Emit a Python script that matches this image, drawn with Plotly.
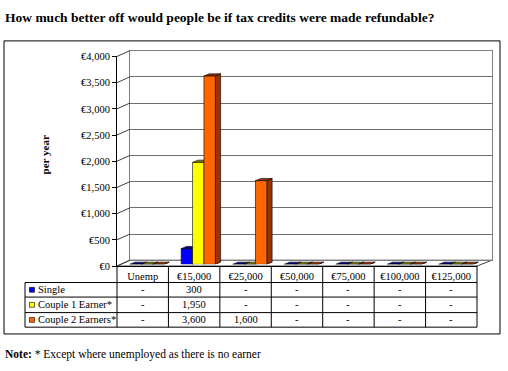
import plotly.graph_objects as go

# ---------------- data ----------------
categories = ["Unemp", "€15,000", "€25,000", "€50,000", "€75,000", "€100,000", "€125,000"]
series_names = ["Single", "Couple 1 Earner*", "Couple 2 Earners*"]
single = [0, 300, 0, 0, 0, 0, 0]
couple_1_earner = [0, 1950, 0, 0, 0, 0, 0]
couple_2_earners = [0, 3600, 1600, 0, 0, 0, 0]
y_ticks = [0, 500, 1000, 1500, 2000, 2500, 3000, 3500, 4000]

series_values = [single, couple_1_earner, couple_2_earners]
front_colors = ["#0000FF", "#FFFF00", "#FF6600"]
dark_colors = ["#000080", "#808000", "#993300"]

W, H = 508, 371
FONT = "Liberation Serif"


def px(x):
    return x / W


def py(y):
    return 1 - y / H


# pixel geometry
BACK_L, BACK_R, BACK_T, BACK_B = 130, 492, 47, 263
FRONT_L, FRONT_R, FRONT_T, FRONT_B = 117, 477, 53, 269
MID_L, MID_R, MID_T, MID_B = 121, 481.5, 51.7, 267.3
YMAX = 4000
ncat = len(categories)

fig = go.Figure()

# -------- 3D bar depth faces (behind front plane) on x3/y3 --------
bw = 0.221
dx = 0.103
dy = 43
for j, vals in enumerate(series_values):
    xs_side, ys_side, xs_top, ys_top = [], [], [], []
    for i, v in enumerate(vals):
        xl = i + (j - 1.5) * bw
        xr = xl + bw
        xs_side += [xr, xr + dx, xr + dx, xr, xr, None]
        ys_side += [0, dy, v + dy, v, 0, None]
        xs_top += [xl, xl + dx, xr + dx, xr, xl, None]
        ys_top += [v, v + dy, v + dy, v, v, None]
    for xs, ys in ((xs_side, ys_side), (xs_top, ys_top)):
        fig.add_trace(go.Scatter(
            x=xs, y=ys, xaxis="x3", yaxis="y3", mode="lines", fill="toself",
            fillcolor=dark_colors[j], line=dict(color="black", width=0.6),
            hoverinfo="skip", showlegend=False))

# -------- front faces of bars on x4/y4 --------
for j, vals in enumerate(series_values):
    fig.add_trace(go.Bar(
        x=list(range(ncat)), y=vals, xaxis="x4", yaxis="y4",
        width=bw, offset=(j - 1.5) * bw,
        marker=dict(color=front_colors[j], line=dict(color="black", width=0.6)),
        name=series_names[j], showlegend=False))

# placeholder traces so back / front axes render
fig.add_trace(go.Scatter(x=[None], y=[None], xaxis="x", yaxis="y", showlegend=False, hoverinfo="skip"))
fig.add_trace(go.Scatter(x=[None], y=[None], xaxis="x2", yaxis="y2", showlegend=False, hoverinfo="skip"))

tick_font = dict(family=FONT, size=10.5, color="black")

fig.update_layout(
    width=W, height=H,
    margin=dict(l=0, r=0, t=0, b=0),
    paper_bgcolor="white",
    plot_bgcolor="rgba(0,0,0,0)",
    barmode="overlay",
    showlegend=False,
    # back wall
    xaxis=dict(domain=[px(BACK_L), px(BACK_R)], anchor="y", range=[0, 1],
               showgrid=False, showticklabels=False, zeroline=False,
               showline=True, mirror=True, linecolor="#808080", linewidth=1),
    yaxis=dict(domain=[py(BACK_B), py(BACK_T)], anchor="x", range=[0, YMAX],
               tickvals=y_ticks, showticklabels=False, showgrid=True,
               gridcolor="#707070", gridwidth=1.4, zeroline=False,
               showline=True, mirror=True, linecolor="#808080", linewidth=1),
    # front axis with labels
    xaxis2=dict(domain=[px(FRONT_L), px(FRONT_R)], anchor="y2", range=[-0.5, ncat - 0.5],
                tickvals=list(range(ncat)), ticktext=categories, ticks="",
                tickfont=tick_font, showgrid=False, zeroline=False,
                showline=True, linecolor="black", linewidth=1),
    yaxis2=dict(domain=[py(FRONT_B), py(FRONT_T)], anchor="x2", range=[0, YMAX],
                tickvals=y_ticks, ticktext=[f"€{v:,}" for v in y_ticks],
                ticks="outside", ticklen=4, tickcolor="black",
                tickfont=tick_font, showgrid=False, zeroline=False,
                showline=True, linecolor="black", linewidth=1),
    # mid-depth axes for bars
    xaxis3=dict(domain=[px(MID_L), px(MID_R)], anchor="y3", range=[-0.5, ncat - 0.5], visible=False),
    yaxis3=dict(domain=[py(MID_B), py(MID_T)], anchor="x3", range=[0, YMAX], visible=False),
    xaxis4=dict(overlaying="x3", anchor="y4", range=[-0.5, ncat - 0.5], visible=False, matches="x3"),
    yaxis4=dict(overlaying="y3", anchor="x4", range=[0, YMAX], visible=False, matches="y3"),
)

shapes = []
# outer box
shapes.append(dict(type="rect", xref="paper", yref="paper", x0=px(4), x1=px(500),
                   y0=py(339), y1=py(37), line=dict(color="black", width=1), layer="below"))
# floor
shapes.append(dict(type="path", xref="paper", yref="paper",
                   path=f"M {px(FRONT_L)},{py(FRONT_B)} L {px(FRONT_R)},{py(FRONT_B)} "
                        f"L {px(BACK_R)},{py(BACK_B)} L {px(BACK_L)},{py(BACK_B)} Z",
                   line=dict(color="#404040", width=1), fillcolor="white", layer="below"))
# left wall diagonals (tick connectors)
for v in y_ticks:
    fy = FRONT_B - v / YMAX * (FRONT_B - FRONT_T)
    by = BACK_B - v / YMAX * (BACK_B - BACK_T)
    shapes.append(dict(type="line", xref="paper", yref="paper",
                       x0=px(FRONT_L), y0=py(fy), x1=px(BACK_L), y1=py(by),
                       line=dict(color="#404040", width=1)))

# data table
TBL_L = 25
row_lines = [286, 301, 317, 332]
col_w = (FRONT_R - FRONT_L) / ncat
for k, yl in enumerate(row_lines):
    shapes.append(dict(type="line", xref="paper", yref="paper",
                       x0=px(TBL_L), x1=px(FRONT_R), y0=py(yl), y1=py(yl),
                       line=dict(color="black", width=1)))
for i in range(ncat + 1):
    xl = FRONT_L + i * col_w
    shapes.append(dict(type="line", xref="paper", yref="paper",
                       x0=px(xl), x1=px(xl), y0=py(FRONT_B), y1=py(row_lines[-1]),
                       line=dict(color="black", width=1)))
shapes.append(dict(type="line", xref="paper", yref="paper",
                   x0=px(TBL_L), x1=px(TBL_L), y0=py(row_lines[0]), y1=py(row_lines[-1]),
                   line=dict(color="black", width=1)))

annotations = []
for j, vals in enumerate(series_values):
    top, bot = row_lines[j], row_lines[j + 1]
    cy = (top + bot) / 2
    shapes.append(dict(type="rect", xref="paper", yref="paper",
                       x0=px(29.5), x1=px(34.5), y0=py(cy + 2.5), y1=py(cy - 2.5),
                       fillcolor=front_colors[j], line=dict(color="black", width=0.6)))
    annotations.append(dict(text=series_names[j], xref="paper", yref="paper",
                            x=px(35.5), y=py(cy), xanchor="left", yanchor="middle",
                            showarrow=False, font=tick_font))
    for i, v in enumerate(vals):
        annotations.append(dict(text=(f"{v:,}" if v else "-"), xref="x2", yref="paper",
                                x=i, y=py(cy), xanchor="center", yanchor="middle",
                                showarrow=False, font=tick_font))

# y-axis title
annotations.append(dict(text="<b>per year</b>", xref="paper", yref="paper",
                        x=px(45), y=py(155), xanchor="center", yanchor="middle",
                        textangle=-90, showarrow=False,
                        font=dict(family=FONT, size=11, color="black")))
# chart title
annotations.append(dict(text="<b>How much better off would people be if tax credits were made refundable?</b>",
                        xref="paper", yref="paper", x=px(3), y=py(13),
                        xanchor="left", yanchor="middle", showarrow=False,
                        font=dict(family=FONT, size=13.5, color="black")))
# note
annotations.append(dict(text="<b>Note:</b> * Except where unemployed as there is no earner",
                        xref="paper", yref="paper", x=px(3), y=py(360),
                        xanchor="left", yanchor="middle", showarrow=False,
                        font=dict(family=FONT, size=11.5, color="black")))

fig.update_layout(shapes=shapes, annotations=annotations)
fig.write_html(
    "out.html",
    config={"displayModeBar": False},
    post_script=(
        "document.documentElement.style.overflow='hidden';"
        "document.body.style.margin='0';document.body.style.overflow='hidden';"
        "var d=document.getElementById('{plot_id}');"
        "d.style.position='fixed';d.style.left='0px';d.style.top='0px';"
    ),
)
